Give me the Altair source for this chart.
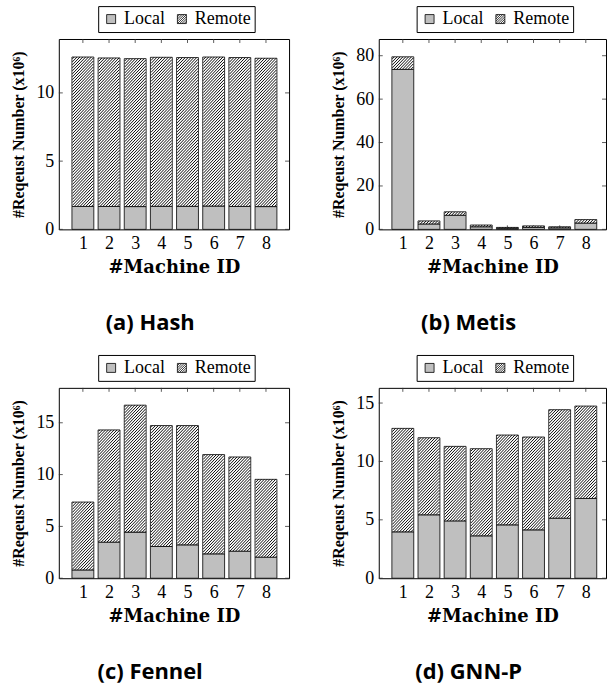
import math
import altair as alt
import pandas as pd

machines = [1, 2, 3, 4, 5, 6, 7, 8]
series = ["Local", "Remote"]

hash_local = [1.68, 1.68, 1.67, 1.69, 1.69, 1.71, 1.68, 1.67]
hash_remote = [10.95, 10.88, 10.84, 10.92, 10.90, 10.92, 10.91, 10.87]

metis_local = [73.7, 2.5, 6.5, 1.2, 0.5, 0.9, 0.7, 2.9]
metis_remote = [5.8, 1.4, 1.6, 0.8, 0.4, 0.7, 0.5, 1.6]

fennel_local = [0.80, 3.48, 4.45, 3.06, 3.22, 2.35, 2.61, 2.03]
fennel_remote = [6.55, 10.83, 12.25, 11.67, 11.51, 9.58, 9.09, 7.51]

gnnp_local = [3.97, 5.43, 4.91, 3.63, 4.57, 4.14, 5.14, 6.83]
gnnp_remote = [8.86, 6.60, 6.38, 7.46, 7.69, 7.95, 9.29, 7.91]

hash_ticks = [0, 5, 10]
metis_ticks = [0, 20, 40, 60, 80]
fennel_ticks = [0, 5, 10, 15]
gnnp_ticks = [0, 5, 10, 15]

captions = ["(a) Hash", "(b) Metis", "(c) Fennel", "(d) GNN-P"]
y_max = [13.95, 87.7, 18.37, 16.3]

Y_TITLE = "#Reqeust Number (x10\u2076)"
X_TITLE = "#Machine ID"

H = 191
X_MIN = 0.27
STEP_PX = 27.43          # pixels per machine slot
BAR_FRAC = 0.8           # bar width as fraction of a slot
HATCH_PERIOD = 3.0       # px between hatch lines (horizontal)
LOCAL_FILL = "#bfbfbf"
SERIF = "Liberation Serif"

HATCH_PATH = ("M-1,-1H1V1H-1Z "
              "M-1,-0.5L-0.5,-1 M-1,0L0,-1 M-1,0.5L0.5,-1 M-1,1L1,-1 "
              "M-0.5,1L1,-0.5 M0,1L1,0 M0.5,1L1,0.5")


def hatch_table(local, remote, ymax, x_min, sx, bw):
    """'north east lines' clipped to each remote segment (data units)."""
    sy = H / ymax
    rows = []
    p = HATCH_PERIOD
    for m, lo, r in zip(machines, local, remote):
        xc = (m - x_min) * sx
        xl, xr = xc - bw / 2, xc + bw / 2
        yb, yt = lo * sy, (lo + r) * sy
        k = math.ceil((yb - xr) / p) * p
        while k <= yt - xl:
            xa = max(xl, yb - k)
            xb = min(xr, yt - k)
            if xb - xa > 0.05:
                rows.append({"hx": x_min + xa / sx, "hx2": x_min + xb / sx,
                             "hy": (xa + k) / sy, "hy2": (xb + k) / sy})
            k += p
    return pd.DataFrame(rows)


def panel(caption, local, remote, ymax, ticks, W):
    sx = STEP_PX
    x_max = X_MIN + W / sx
    bw = sx * BAR_FRAC
    df = pd.DataFrame({"machine": machines, "local": local, "remote": remote})
    tick_df = pd.DataFrame({"v": ticks})
    m_df = pd.DataFrame({"machine": machines})
    leg_df = pd.DataFrame({"type": series})
    h_df = hatch_table(local, remote, ymax, X_MIN, sx, bw)

    xscale = alt.Scale(domain=[X_MIN, x_max], nice=False, zero=False)
    yscale = alt.Scale(domain=[0, ymax], nice=False, zero=True)

    xaxis = alt.Axis(title=X_TITLE, values=machines, format="d", labelAngle=0,
                     ticks=False, domain=False, grid=False, labelOverlap=False,
                     labelFont=SERIF, labelFontSize=18, labelPadding=5,
                     labelFlush=False,
                     titleFont="DejaVu Serif", titleFontSize=18,
                     titleFontWeight="bold", titlePadding=6)
    yaxis = alt.Axis(title=Y_TITLE, values=ticks, ticks=False, domain=False,
                     grid=False, labelFont=SERIF, labelFontSize=18,
                     labelPadding=5, labelFlush=False, labelOverlap=False,
                     titleFont=SERIF, titleFontSize=16,
                     titleFontWeight="bold", titlePadding=9)

    base = alt.Chart(df).transform_calculate(total="datum.local + datum.remote")

    local_bars = base.mark_bar(width=bw, fill=LOCAL_FILL, stroke="black",
                               strokeWidth=0.8).encode(
        x=alt.X("machine:Q", scale=xscale, axis=xaxis),
        y=alt.Y("local:Q", scale=yscale, axis=yaxis))
    remote_bars = base.mark_bar(width=bw, fill="white", stroke="black",
                                strokeWidth=0.8).encode(
        x=alt.X("machine:Q", scale=xscale, axis=xaxis),
        y=alt.Y("local:Q", scale=yscale, axis=yaxis),
        y2="total:Q")

    # inward ticks, drawn behind the bars as pgfplots does
    xt = alt.X("machine:Q", scale=xscale, axis=xaxis)
    tick_style = dict(color="#333", strokeWidth=0.8)
    top_ticks = alt.Chart(m_df).mark_rule(**tick_style).encode(
        x=xt, y=alt.value(0), y2=alt.value(4))
    bot_ticks = alt.Chart(m_df).mark_rule(**tick_style).encode(
        x=xt, y=alt.value(H - 4), y2=alt.value(H))
    left_ticks = alt.Chart(tick_df).mark_rule(**tick_style).encode(
        y=alt.Y("v:Q", scale=yscale, axis=yaxis), x=alt.value(0), x2=alt.value(4))
    right_ticks = alt.Chart(tick_df).mark_rule(**tick_style).encode(
        y=alt.Y("v:Q", scale=yscale, axis=yaxis), x=alt.value(W - 4), x2=alt.value(W))

    hatch_lines = alt.Chart(h_df).mark_rule(color="black", strokeWidth=0.95,
                                            strokeCap="butt").encode(
        x=alt.X("hx:Q", scale=xscale, axis=xaxis), x2="hx2:Q",
        y=alt.Y("hy:Q", scale=yscale, axis=yaxis), y2="hy2:Q")

    leg = alt.Legend(title=None, orient="none", legendX=(W - 150) / 2 - 1, legendY=-33,
                     direction="horizontal", strokeColor="black", fillColor="white",
                     padding=4, labelFont=SERIF, labelFontSize=18, labelColor="black",
                     symbolSize=81, symbolStrokeWidth=0.8,
                     labelOffset=4, columnPadding=8)
    legend_layer = alt.Chart(leg_df).mark_point(filled=True, opacity=1,
                                                strokeWidth=0.8).encode(
        fill=alt.Fill("type:N", scale=alt.Scale(domain=series, range=[LOCAL_FILL, "white"]),
                      legend=leg),
        stroke=alt.Stroke("type:N", scale=alt.Scale(domain=series, range=["black", "black"]),
                          legend=leg),
        shape=alt.Shape("type:N", scale=alt.Scale(domain=series, range=["square", HATCH_PATH]),
                        legend=leg),
    ).transform_filter("false")

    return alt.layer(bot_ticks, top_ticks, left_ticks, right_ticks,
                     local_bars, remote_bars, hatch_lines, legend_layer).properties(
        width=W, height=H,
        title=alt.Title(caption, orient="bottom", font="Open Sans", fontSize=22,
                        fontWeight="bold", color="black", offset=37, frame="bounds"))


pa = panel(captions[0], hash_local, hash_remote, y_max[0], hash_ticks, 231)
pb = panel(captions[1], metis_local, metis_remote, y_max[1], metis_ticks, 228)
pc = panel(captions[2], fennel_local, fennel_remote, y_max[2], fennel_ticks, 231)
pd_ = panel(captions[3], gnnp_local, gnnp_remote, y_max[3], gnnp_ticks, 228)

ind = dict(fill="independent", stroke="independent", shape="independent")
row1 = alt.hconcat(pa, pb, spacing=40).resolve_scale(**ind)
row2 = alt.hconcat(pc, pd_, spacing=40).resolve_scale(**ind)

chart = alt.vconcat(row1, row2, spacing=19).resolve_scale(**ind).properties(
    background="white",
    padding={"left": 10, "top": 4, "right": 1, "bottom": 0},
).configure_view(
    stroke="black", strokeWidth=1
).configure_axis(
    labelColor="black", titleColor="black"
).configure_axisX(
    labelOverlap=False
)

chart.save("out.html", embed_options={"renderer": "svg", "actions": False})
